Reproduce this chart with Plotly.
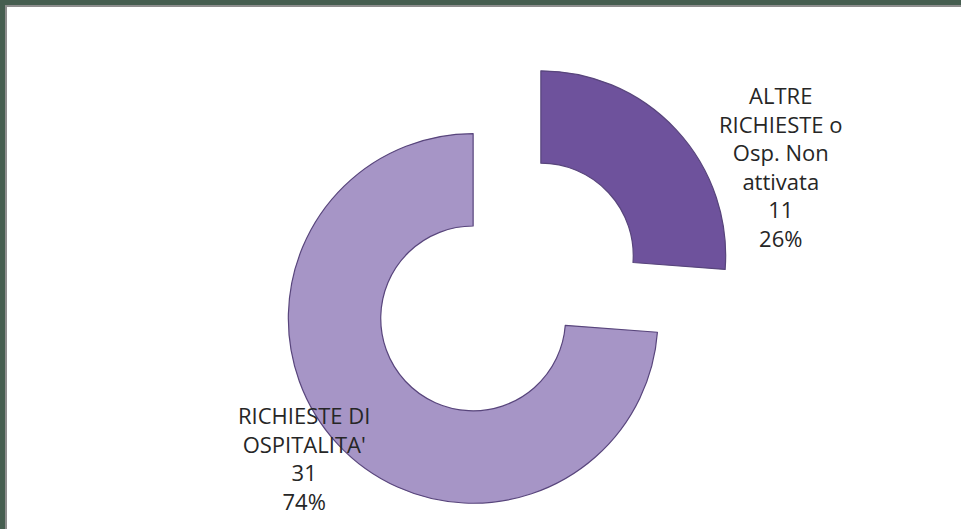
import plotly.graph_objects as go

# Richieste ricevute, per tipologia
categorie = ["ALTRE RICHIESTE o Osp. Non attivata", "RICHIESTE DI OSPITALITA'"]
etichette = ["ALTRE<br>RICHIESTE o<br>Osp. Non<br>attivata", "RICHIESTE DI<br>OSPITALITA'"]
valori = [11, 31]
colori = ["#6e529c", "#a695c6"]

W, H = 961, 529
totale = sum(valori)

fig = go.Figure()
fig.add_trace(go.Pie(
    labels=categorie,
    values=valori,
    hole=0.5,
    sort=False,
    direction="clockwise",
    rotation=0,
    pull=[0.25, 0.25],
    marker=dict(colors=colori, line=dict(color="#58457c", width=1.2)),
    textinfo="none",
    hoverinfo="skip",
    showlegend=False,
    domain=dict(x=[276 / W, 738 / W], y=[1 - 518 / H, 1 - 56 / H]),
))

# Etichette esterne con valore e percentuale
pos = [(781, 166), (304, 458)]
for lab, v, (px, py) in zip(etichette, valori, pos):
    pct = round(100 * v / totale)
    fig.add_annotation(
        x=px / W, y=1 - py / H, xref="paper", yref="paper",
        xanchor="center", yanchor="middle",
        text=f"{lab}<br>{v}<br>{pct}%",
        showarrow=False, align="center",
        font=dict(family="Open Sans", size=22, color="#262626"),
    )

# Cornice superiore e sinistra
fig.add_shape(type="rect", xref="paper", yref="paper", x0=0, x1=1, y0=1 - 7 / H, y1=1,
              fillcolor="#8e8e8e", line_width=0, layer="above")
fig.add_shape(type="rect", xref="paper", yref="paper", x0=0, x1=7 / W, y0=0, y1=1,
              fillcolor="#8e8e8e", line_width=0, layer="above")
fig.add_shape(type="rect", xref="paper", yref="paper", x0=0, x1=1, y0=1 - 5 / H, y1=1,
              fillcolor="#465e50", line_width=0, layer="above")
fig.add_shape(type="rect", xref="paper", yref="paper", x0=0, x1=5 / W, y0=0, y1=1,
              fillcolor="#465e50", line_width=0, layer="above")

fig.update_layout(
    width=W, height=H,
    margin=dict(l=0, r=0, t=0, b=0),
    paper_bgcolor="white", plot_bgcolor="white",
)

fig.write_html("out.html")
